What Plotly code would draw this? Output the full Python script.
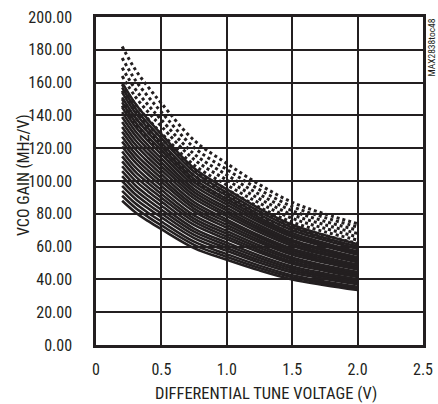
import plotly.graph_objects as go

# Differential tune voltage sample points (V)
x_volts = [0.2, 0.3, 0.4, 0.5, 0.75, 1.0, 1.25, 1.5, 1.75, 2.0]

# Solid curves: VCO gain (MHz/V)
solid_1 = [88, 81.0, 75.5, 70.6, 59.1, 52.0, 45.5, 40.0, 36.5, 33.5]
solid_2 = [91, 83.7, 78.0, 72.9, 61.1, 53.7, 46.9, 41.3, 37.6, 34.5]
solid_3 = [94, 86.4, 80.5, 75.3, 63.0, 55.4, 48.4, 42.5, 38.7, 35.5]
solid_4 = [97, 89.2, 83.2, 77.8, 65.2, 57.4, 50.2, 44.2, 40.3, 37]
solid_5 = [100, 91.9, 85.7, 80.2, 67.1, 59.1, 51.6, 45.4, 41.4, 38]
solid_6 = [103, 94.7, 88.3, 82.5, 69.1, 60.8, 53.1, 46.7, 42.5, 39]
solid_7 = [106, 97.4, 90.8, 84.9, 71.0, 62.4, 54.5, 47.9, 43.6, 40]
solid_8 = [109, 100.2, 93.5, 87.4, 73.2, 64.5, 56.4, 49.6, 45.2, 41.5]
solid_9 = [112, 103.0, 96.0, 89.8, 75.2, 66.1, 57.8, 50.8, 46.3, 42.5]
solid_10 = [115, 105.7, 98.6, 92.1, 77.1, 67.8, 59.2, 52.1, 47.4, 43.5]
solid_11 = [118, 108.4, 101.1, 94.5, 79.0, 69.5, 60.7, 53.3, 48.5, 44.5]
solid_12 = [121, 111.3, 103.8, 97.0, 81.3, 71.5, 62.5, 55.0, 50.1, 46]
solid_13 = [124, 114.0, 106.3, 99.4, 83.2, 73.2, 63.9, 56.2, 51.2, 47]
solid_14 = [127, 116.7, 108.8, 101.7, 85.1, 74.9, 65.4, 57.5, 52.3, 48]
solid_15 = [130, 119.5, 111.4, 104.1, 87.1, 76.5, 66.8, 58.7, 53.5, 49]
solid_16 = [133, 122.3, 114.0, 106.6, 89.3, 78.6, 68.7, 60.4, 55.0, 50.5]
solid_17 = [136, 125.0, 116.6, 109.0, 91.2, 80.2, 70.1, 61.6, 56.1, 51.5]
solid_18 = [139, 127.8, 119.1, 111.3, 93.2, 81.9, 71.5, 62.9, 57.3, 52.5]
solid_19 = [142, 130.5, 121.6, 113.7, 95.1, 83.6, 73.0, 64.1, 58.4, 53.5]
solid_20 = [145, 133.3, 124.3, 116.2, 97.3, 85.6, 74.8, 65.8, 60.0, 55]
solid_21 = [148, 136.0, 126.8, 118.6, 99.2, 87.3, 76.2, 67.0, 61.1, 56]
solid_22 = [151, 138.8, 129.4, 120.9, 101.2, 89.0, 77.7, 68.3, 62.2, 57]
solid_23 = [154, 141.6, 132.0, 123.4, 103.4, 91.0, 79.5, 70.0, 63.8, 58.5]
solid_24 = [157, 144.4, 134.7, 126.0, 105.6, 93.0, 81.3, 71.6, 65.3, 60]
solid_25 = [160, 147.2, 137.3, 128.5, 107.8, 95.0, 83.2, 73.3, 66.9, 61.5]

# Dotted curves: VCO gain (MHz/V)
dotted_1 = [182, 168.0, 157.2, 147.4, 124.8, 110.7, 97.8, 87.0, 79.9, 74]
dotted_2 = [175, 161.6, 151.3, 142.0, 120.4, 107.0, 94.7, 84.4, 77.7, 72]
dotted_3 = [169, 156.1, 146.2, 137.3, 116.5, 103.7, 91.8, 81.9, 75.4, 70]
dotted_4 = [164, 151.5, 141.9, 133.3, 113.1, 100.6, 89.1, 79.5, 73.3, 68]
dotted_5 = [159, 146.9, 137.6, 129.2, 109.7, 97.6, 86.5, 77.2, 71.1, 66]
dotted_6 = [155, 143.2, 134.1, 125.9, 106.8, 94.9, 84.0, 74.9, 69.0, 64]
dotted_7 = [150, 138.6, 129.8, 121.8, 103.4, 91.9, 81.4, 72.6, 66.8, 62]
dotted_8 = [146, 134.8, 126.2, 118.5, 100.4, 89.2, 78.9, 70.3, 64.7, 60]

solid_series = [solid_1, solid_2, solid_3, solid_4, solid_5, solid_6, solid_7,
                solid_8, solid_9, solid_10, solid_11, solid_12, solid_13,
                solid_14, solid_15, solid_16, solid_17, solid_18, solid_19,
                solid_20, solid_21, solid_22, solid_23, solid_24, solid_25]
dotted_series = [dotted_1, dotted_2, dotted_3, dotted_4, dotted_5, dotted_6,
                 dotted_7, dotted_8]

x_tick_vals = [0, 0.5, 1.0, 1.5, 2.0, 2.5]
x_tick_text = ["0", "0.5", "1.0", "1.5", "2.0", "2.5"]
y_tick_vals = [0, 20, 40, 60, 80, 100, 120, 140, 160, 180, 200]
y_tick_text = ["0.00", "20.00", "40.00", "60.00", "80.00", "100.00",
               "120.00", "140.00", "160.00", "180.00", "200.00"]
x_title = "DIFFERENTIAL TUNE VOLTAGE (V)"
y_title = "VCO GAIN (MHz/V)"
figure_id = "MAX2838toc48"

INK = "#231f20"
FONT = "Roboto Condensed, Liberation Sans, sans-serif"

fig = go.Figure()
for ys in solid_series:
    fig.add_trace(go.Scatter(x=x_volts, y=ys, mode="lines",
                             line=dict(color=INK, width=2.6, shape="spline"),
                             showlegend=False, hoverinfo="skip"))
for ys in dotted_series:
    fig.add_trace(go.Scatter(x=x_volts, y=ys, mode="lines",
                             line=dict(color=INK, width=3, dash="dot", shape="spline"),
                             showlegend=False, hoverinfo="skip"))

fig.update_layout(
    width=438, height=404,
    margin=dict(l=96, r=15, t=17, b=59),
    paper_bgcolor="white", plot_bgcolor="white",
    font=dict(family=FONT, size=16, color=INK),
    showlegend=False,
)
fig.update_xaxes(
    range=[0, 2.5], tickvals=x_tick_vals, ticktext=x_tick_text,
    showgrid=True, gridcolor=INK, gridwidth=1.5,
    showline=True, linecolor=INK, linewidth=2.5, mirror=True,
    ticks="", ticklabelstandoff=8, zeroline=False, automargin=False,
    tickfont=dict(size=16, family=FONT, color=INK),
)
fig.update_yaxes(
    range=[0, 200], tickvals=y_tick_vals, ticktext=y_tick_text,
    showgrid=True, gridcolor=INK, gridwidth=1.5,
    showline=True, linecolor=INK, linewidth=2.5, mirror=True,
    ticks="", ticklabelstandoff=18, zeroline=False, automargin=False,
    tickfont=dict(size=16, family=FONT, color=INK),
)
fig.add_annotation(text=x_title, xref="paper", yref="paper",
                   x=0.52, y=0, xanchor="center", yanchor="middle",
                   yshift=-48, showarrow=False,
                   font=dict(size=16.5, family=FONT, color=INK))
fig.add_annotation(text=y_title, xref="paper", yref="paper",
                   x=0, y=0.5, xanchor="center", yanchor="middle",
                   xshift=-73, yshift=6, textangle=-90, showarrow=False,
                   font=dict(size=16, family=FONT, color=INK))
fig.add_annotation(text=figure_id, xref="paper", yref="paper",
                   x=1.0, y=1.0, xanchor="left", yanchor="top", xshift=0,
                   yshift=0, textangle=-90, showarrow=False,
                   font=dict(size=9.5, family=FONT, color=INK))

fig.write_html("out.html", config={"displayModeBar": False},
               post_script="document.body.style.margin='0';")
